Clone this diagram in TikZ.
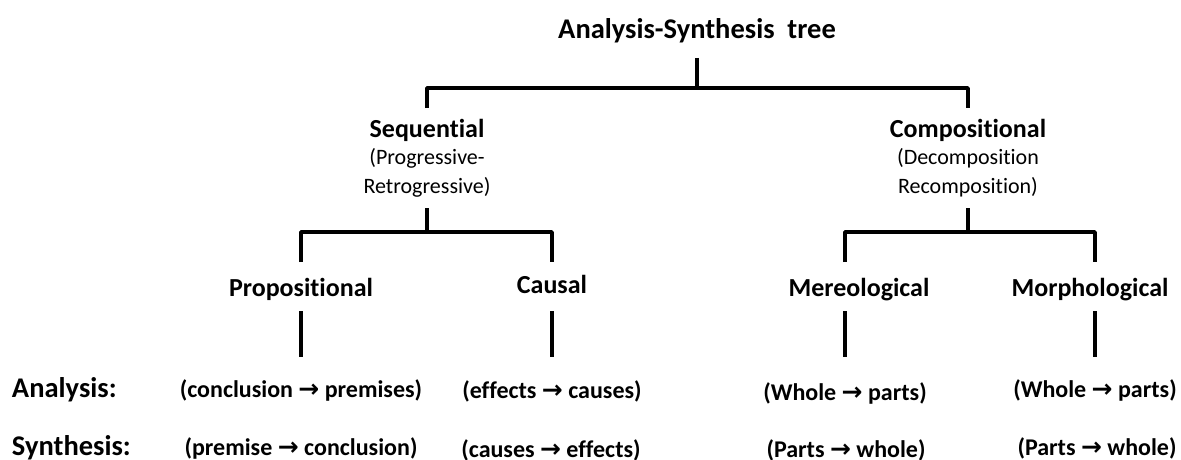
\documentclass[tikz,border=0pt]{standalone}
\usepackage{fontspec}
\setmainfont[Ligatures={NoCommon}]{Carlito}
\newfontfamily\arrowfont{DejaVu Sans}
\newcommand{\myarr}{{\arrowfont\bfseries\fontsize{25}{28}\selectfont →}}
\newcommand{\subfnt}{\mdseries\fontsize{22}{28}\selectfont}
\begin{document}
\begin{tikzpicture}[x=1pt,y=-1pt,
  tree/.style={line width=3.5pt, line join=round},
  lbl/.style={inner sep=0pt, outer sep=0pt, anchor=base, font=\bfseries\fontsize{26}{30}\selectfont},
  ttl/.style={lbl, font=\bfseries\fontsize{28.5}{32}\selectfont},
  grp/.style={inner sep=0pt, outer sep=0pt, anchor=north, align=center, font=\bfseries\fontsize{26}{30}\selectfont},
  leaf/.style={inner sep=0pt, outer sep=0pt, anchor=base, font=\bfseries\fontsize{24}{28}\selectfont},
  rowlbl/.style={inner sep=0pt, outer sep=0pt, anchor=base west, font=\bfseries\fontsize{28.5}{32}\selectfont}]
\useasboundingbox (0,0) rectangle (1181,460);
% levels
\coordinate (lvA) at (0,58);
\coordinate (lvB) at (0,88);
\coordinate (lvC) at (0,108);
\coordinate (lvD) at (0,208);
\coordinate (lvE) at (0,232);
\coordinate (lvF) at (0,262);
\coordinate (lvG) at (0,311);
\coordinate (lvH) at (0,357);
% nodes
\node[ttl] (title) at (697,39) {Analysis-Synthesis\ \ tree};
\node[grp] (seq) at (427,119) {Sequential\\[-3pt]\subfnt (Progressive-\\[-1pt]\subfnt Retrogressive)};
\node[grp] (comp) at (968,119) {Compositional\\[-3pt]\subfnt (Decomposition\\[-1pt]\subfnt Recomposition)};
\node[lbl] (prop) at (301,296) {Propositional};
\node[lbl] (caus) at (552,293) {Causal};
\node[lbl] (mer) at (859,296) {Mereological};
\node[lbl] (mor) at (1090,296) {Morphological};
\node[rowlbl] (ana) at (12,397) {Analysis:};
\node[rowlbl] (syn) at (12,455) {Synthesis:};
\node[leaf] (a1) at (301,397) {(conclusion \myarr{} premises)};
\node[leaf] (a2) at (552,398) {(effects \myarr{} causes)};
\node[leaf] (a3) at (845,400) {(Whole \myarr{} parts)};
\node[leaf] (a4) at (1095,397) {(Whole \myarr{} parts)};
\node[leaf] (s1) at (301,455) {(premise \myarr{} conclusion)};
\node[leaf] (s2) at (551,457) {(causes \myarr{} effects)};
\node[leaf] (s3) at (846,457) {(Parts \myarr{} whole)};
\node[leaf] (s4) at (1097,455) {(Parts \myarr{} whole)};
% connectors
\draw[tree] (title |- lvA) -- (title |- lvB);
\draw[tree] (seq |- lvC) |- (comp |- lvB) -- (comp |- lvC);
\draw[tree] (seq |- lvD) -- (seq |- lvE);
\draw[tree] (comp |- lvD) -- (comp |- lvE);
\draw[tree] (prop |- lvF) |- (caus |- lvE) -- (caus |- lvF);
\draw[tree] (a3 |- lvF) |- (a4 |- lvE) -- (a4 |- lvF);
\draw[tree] (prop |- lvG) -- (prop |- lvH);
\draw[tree] (caus |- lvG) -- (caus |- lvH);
\draw[tree] (a3 |- lvG) -- (a3 |- lvH);
\draw[tree] (a4 |- lvG) -- (a4 |- lvH);
\end{tikzpicture}
\end{document}
